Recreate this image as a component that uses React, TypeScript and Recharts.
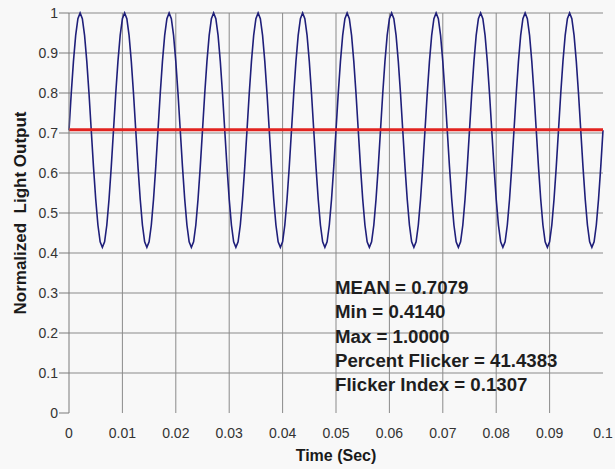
import { LineChart, Line, XAxis, YAxis, CartesianGrid, ReferenceLine } from 'recharts'

// light output samples, 20 per 120 Hz cycle, 0.1 s window
const lightOutput = [
  0.707, 0.798, 0.879, 0.944, 0.986, 1.0, 0.986, 0.944, 0.879, 0.798, 0.707, 0.616, 0.535, 0.47, 0.428, 0.414, 0.428, 0.47, 0.535, 0.616,
  0.707, 0.798, 0.879, 0.944, 0.986, 1.0, 0.986, 0.944, 0.879, 0.798, 0.707, 0.616, 0.535, 0.47, 0.428, 0.414, 0.428, 0.47, 0.535, 0.616,
  0.707, 0.798, 0.879, 0.944, 0.986, 1.0, 0.986, 0.944, 0.879, 0.798, 0.707, 0.616, 0.535, 0.47, 0.428, 0.414, 0.428, 0.47, 0.535, 0.616,
  0.707, 0.798, 0.879, 0.944, 0.986, 1.0, 0.986, 0.944, 0.879, 0.798, 0.707, 0.616, 0.535, 0.47, 0.428, 0.414, 0.428, 0.47, 0.535, 0.616,
  0.707, 0.798, 0.879, 0.944, 0.986, 1.0, 0.986, 0.944, 0.879, 0.798, 0.707, 0.616, 0.535, 0.47, 0.428, 0.414, 0.428, 0.47, 0.535, 0.616,
  0.707, 0.798, 0.879, 0.944, 0.986, 1.0, 0.986, 0.944, 0.879, 0.798, 0.707, 0.616, 0.535, 0.47, 0.428, 0.414, 0.428, 0.47, 0.535, 0.616,
  0.707, 0.798, 0.879, 0.944, 0.986, 1.0, 0.986, 0.944, 0.879, 0.798, 0.707, 0.616, 0.535, 0.47, 0.428, 0.414, 0.428, 0.47, 0.535, 0.616,
  0.707, 0.798, 0.879, 0.944, 0.986, 1.0, 0.986, 0.944, 0.879, 0.798, 0.707, 0.616, 0.535, 0.47, 0.428, 0.414, 0.428, 0.47, 0.535, 0.616,
  0.707, 0.798, 0.879, 0.944, 0.986, 1.0, 0.986, 0.944, 0.879, 0.798, 0.707, 0.616, 0.535, 0.47, 0.428, 0.414, 0.428, 0.47, 0.535, 0.616,
  0.707, 0.798, 0.879, 0.944, 0.986, 1.0, 0.986, 0.944, 0.879, 0.798, 0.707, 0.616, 0.535, 0.47, 0.428, 0.414, 0.428, 0.47, 0.535, 0.616,
  0.707, 0.798, 0.879, 0.944, 0.986, 1.0, 0.986, 0.944, 0.879, 0.798, 0.707, 0.616, 0.535, 0.47, 0.428, 0.414, 0.428, 0.47, 0.535, 0.616,
  0.707, 0.798, 0.879, 0.944, 0.986, 1.0, 0.986, 0.944, 0.879, 0.798, 0.707, 0.616, 0.535, 0.47, 0.428, 0.414, 0.428, 0.47, 0.535, 0.616,
  0.707,
]
const sampleInterval = 0.1 / 240

const meanValue = 0.7079
const xTicks = [0, 0.01, 0.02, 0.03, 0.04, 0.05, 0.06, 0.07, 0.08, 0.09, 0.1]
const yTicks = [0, 0.1, 0.2, 0.3, 0.4, 0.5, 0.6, 0.7, 0.8, 0.9, 1]
const gridX = [0.01, 0.02, 0.03, 0.04, 0.05, 0.06, 0.07, 0.08, 0.09]
const gridY = [0.1, 0.2, 0.3, 0.4, 0.5, 0.6, 0.7, 0.8, 0.9, 1]
const statLines = [
  'MEAN = 0.7079',
  'Min = 0.4140',
  'Max = 1.0000',
  'Percent Flicker = 41.4383',
  'Flicker Index = 0.1307',
]

const data = lightOutput.map((v, i) => ({ t: i * sampleInterval, v }))

const fmt = (v: number) => String(Math.round(v * 100) / 100)

export default function App() {
  return (
    <div
      style={{
        position: 'fixed',
        left: 0,
        top: 0,
        width: 615,
        height: 469,
        background: '#f8f8f8',
        fontFamily: '"Liberation Sans", Arial, sans-serif',
      }}
    >
      <LineChart width={615} height={469} data={data} margin={{ top: 13, right: 12, bottom: 0, left: 0 }}>
        <CartesianGrid
          stroke="#8a8a8a"
          strokeWidth={1}
          horizontalValues={gridY}
          verticalValues={gridX}
        />
        <XAxis
          dataKey="t"
          type="number"
          domain={[0, 0.1]}
          ticks={xTicks}
          tickFormatter={fmt}
          height={56}
          axisLine={false}
          tickLine={false}
          tickMargin={9}
          tick={{ fontSize: 14, fill: '#333' }}
          label={{ value: 'Time (Sec)', position: 'insideBottom', offset: 8, style: { fontSize: 16, fontWeight: 'bold', fill: '#1a1a1a' } }}
        />
        <YAxis
          type="number"
          domain={[0, 1]}
          ticks={yTicks}
          tickFormatter={fmt}
          width={69}
          axisLine={{ stroke: '#7a7a7a' }}
          tickLine={{ stroke: '#7a7a7a' }}
          tickSize={10}
          tickMargin={1}
          tick={{ fontSize: 14, fill: '#333' }}
          label={{
            value: 'Normalized\u00a0\u00a0Light Output',
            angle: -90,
            position: 'insideLeft',
            offset: 20,
            style: { fontSize: 17, fontWeight: 'bold', fill: '#1a1a1a', textAnchor: 'middle' },
          }}
        />
        <Line
          dataKey="v"
          type="linear"
          stroke="#1f1f7a"
          strokeWidth={1.6}
          dot={false}
          isAnimationActive={false}
        />
        <ReferenceLine y={meanValue} stroke="#e2231f" strokeWidth={3} />
      </LineChart>
      <div
        style={{
          position: 'absolute',
          left: 335,
          top: 276,
          fontSize: 18.67,
          fontWeight: 'bold',
          lineHeight: '24.25px',
          color: '#1e1e1e',
        }}
      >
        {statLines.map((s) => (
          <div key={s}>{s}</div>
        ))}
      </div>
    </div>
  )
}
